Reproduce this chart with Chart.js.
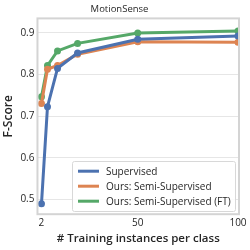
<!DOCTYPE html>
<html>
<head>
<meta charset="utf-8">
<script src="https://cdn.jsdelivr.net/npm/chart.js@4"></script>
<style>
  html, body { margin: 0; padding: 0; background: #fff; }
  #wrap { width: 250px; height: 250px; }
</style>
</head>
<body>
<div id="wrap"><canvas id="chart" width="250" height="250"></canvas></div>
<script>
const instances = [2, 5, 10, 20, 50, 100];
const supervised = [0.490, 0.723, 0.815, 0.852, 0.885, 0.893];
const semiSupervised = [0.731, 0.813, 0.822, 0.849, 0.879, 0.878];
const semiSupervisedFT = [0.747, 0.822, 0.857, 0.875, 0.900, 0.905];
const xTicks = [2, 50, 100];
const yTicks = [0.5, 0.6, 0.7, 0.8, 0.9];

const FONT = "'Open Sans', 'DejaVu Sans', sans-serif";

const toPoints = vals => vals.map((v, i) => ({ x: instances[i], y: v }));

const datasets = [
    { label: 'Supervised', data: toPoints(supervised), color: '#4c72b0' },
    { label: 'Ours: Semi-Supervised', data: toPoints(semiSupervised), color: '#dd8452' },
    { label: 'Ours: Semi-Supervised (FT)', data: toPoints(semiSupervisedFT), color: '#55a868' }
].map(d => ({
    label: d.label,
    data: d.data,
    borderColor: d.color,
    backgroundColor: d.color,
    borderWidth: 3,
    pointRadius: 2,
    pointHoverRadius: 2,
    tension: 0
}));

// frame around plot area + legend inside the plot (bottom right)
const framePlugin = {
    id: 'frame',
    afterDraw(chart) {
        const { ctx, chartArea: a } = chart;
        ctx.save();
        ctx.strokeStyle = '#d4d4d4';
        ctx.lineWidth = 2;
        ctx.strokeRect(a.left, a.top, a.right - a.left, a.bottom - a.top);

        // legend box, anchored to the bottom right of the plot
        const bw = 163, bh = 50;
        const bx = a.right - bw - 4, by = a.bottom - bh - 3;
        ctx.fillStyle = 'rgba(255,255,255,0.85)';
        ctx.strokeStyle = '#d8d8d8';
        ctx.lineWidth = 1;
        ctx.beginPath();
        ctx.roundRect(Math.round(bx) + 0.5, Math.round(by) + 0.5, bw, bh, 2);
        ctx.fill();
        ctx.stroke();
        ctx.font = '10px ' + FONT;
        ctx.textBaseline = 'middle';
        chart.data.datasets.forEach((ds, i) => {
            const y = by + 10 + i * 15;
            ctx.strokeStyle = ds.borderColor;
            ctx.lineWidth = 3;
            ctx.beginPath();
            ctx.moveTo(bx + 6, y);
            ctx.lineTo(bx + 27, y);
            ctx.stroke();
            ctx.fillStyle = '#262626';
            ctx.fillText(ds.label, bx + 34, y + 0.5);
        });
        ctx.restore();
    }
};

new Chart(document.getElementById('chart').getContext('2d'), {
    type: 'line',
    data: { datasets: datasets },
    options: {
        responsive: false,
        animation: false,
        layout: { padding: { top: 0, right: 11, left: 0, bottom: 4 } },
        scales: {
            x: {
                type: 'linear',
                min: 0,
                max: 100.5,
                afterBuildTicks: axis => { axis.ticks = xTicks.map(v => ({ value: v })); },
                grid: { display: false, drawTicks: false },
                border: { display: false },
                ticks: { color: '#262626', font: { family: FONT, size: 10 }, padding: 3, maxRotation: 0 },
                title: {
                    display: true,
                    text: '# Training instances per class',
                    color: '#262626',
                    font: { family: FONT, size: 11.5, weight: '600' },
                    padding: { top: 0, bottom: 0 }
                }
            },
            y: {
                min: 0.465,
                max: 0.935,
                afterBuildTicks: axis => { axis.ticks = yTicks.map(v => ({ value: v })); },
                grid: { color: '#e6e6e6', lineWidth: 1, drawTicks: false },
                border: { display: false },
                ticks: {
                    color: '#262626',
                    font: { family: FONT, size: 10 },
                    padding: 3,
                    callback: v => v.toFixed(1)
                },
                title: {
                    display: true,
                    text: 'F-Score',
                    color: '#262626',
                    font: { family: FONT, size: 12, weight: '600' },
                    padding: { top: 1, bottom: 2 }
                }
            }
        },
        plugins: {
            legend: { display: false },
            tooltip: { enabled: false },
            title: {
                display: true,
                text: 'MotionSense',
                color: '#262626',
                font: { family: FONT, size: 9.5, weight: 'normal' },
                padding: { top: 4, bottom: 3 }
            }
        }
    },
    plugins: [framePlugin]
});
</script>
</body>
</html>
